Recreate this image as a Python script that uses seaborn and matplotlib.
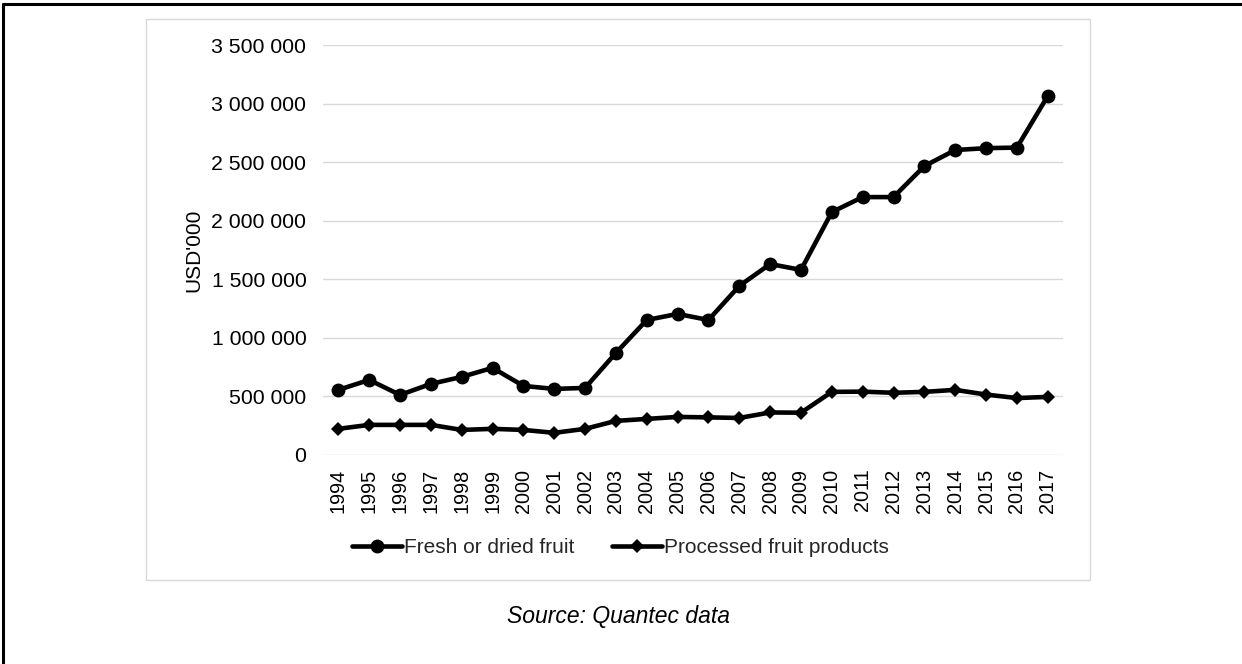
import matplotlib
matplotlib.use("Agg")
import matplotlib.pyplot as plt
import matplotlib.ticker as mticker
from matplotlib.patches import Rectangle
from matplotlib.lines import Line2D
import seaborn as sns
import pandas as pd

# values (USD'000)
years = list(range(1994, 2018))
fresh = [555000, 640000, 512000, 606000, 666000, 743000, 589000, 563000,
         572000, 871000, 1152000, 1204000, 1152000, 1443000, 1630000, 1580000,
         2074000, 2202000, 2202000, 2467000, 2604000, 2620000, 2625000, 3065000]
processed = [222000, 256000, 256000, 256000, 213000, 222000, 213000, 188000,
             222000, 290000, 307000, 324000, 320000, 315000, 362000, 360000,
             538000, 540000, 530000, 538000, 555000, 515000, 485000, 495000]
series_names = ["Fresh or dried fruit", "Processed fruit products"]

df = pd.concat([
    pd.DataFrame({"year": years, "value": fresh, "series": series_names[0]}),
    pd.DataFrame({"year": years, "value": processed, "series": series_names[1]}),
])

sns.set_theme(style="white")
plt.rcParams['font.family'] = ['Liberation Sans', 'DejaVu Sans']

fig = plt.figure(figsize=(12.42, 6.64), dpi=100)
ax = fig.add_axes([0.26, 0.315, 0.596, 0.617])

sns.lineplot(data=df, x="year", y="value", hue="series", style="series",
             palette={series_names[0]: "black", series_names[1]: "black"},
             markers={series_names[0]: "o", series_names[1]: "D"},
             dashes=False, linewidth=3.3, markeredgewidth=0, ax=ax, legend=False)
for line, ms in zip(ax.lines, [10, 7]):
    line.set_markersize(ms)

ax.set_xlim(1993.5, 2017.5)
ax.set_ylim(0, 3500000)
ax.set_xticks(years)
ax.set_xticklabels([str(y) for y in years], rotation=90)
ax.yaxis.set_major_locator(mticker.MultipleLocator(500000))
ax.yaxis.set_major_formatter(mticker.FuncFormatter(lambda v, p: f"{int(v):,}".replace(",", " ")))
ax.grid(axis="y", color="#d9d9d9", linewidth=1)
ax.set_axisbelow(True)
for s in ax.spines.values():
    s.set_visible(False)
ax.tick_params(axis="y", length=0, pad=12, labelsize=15.3, labelcolor="black")
ax.tick_params(axis="x", length=0, pad=10, labelsize=14.3, labelcolor="black")
ax.set_xlabel("")
ax.set_ylabel("USD'000", fontsize=15, color="black")
ax.yaxis.set_label_coords(-0.162, 0.5)

handles = [
    Line2D([], [], color="black", linewidth=3.3, marker="o", markersize=10, markeredgewidth=0),
    Line2D([], [], color="black", linewidth=3.3, marker="D", markersize=7, markeredgewidth=0),
]
fig.legend(handles, series_names, loc="center", bbox_to_anchor=(0.4995, 0.175),
           ncol=2, frameon=False, fontsize=15, handlelength=2.4,
           handletextpad=0.1, columnspacing=1.8)

# chart frame and page border
fig.patches.append(Rectangle((0.1176, 0.1265), 0.760, 0.845, transform=fig.transFigure,
                             fill=False, edgecolor="#d9d9d9", linewidth=1))
fig.lines.append(Line2D([0.0025, 1.0], [0.994, 0.994], transform=fig.transFigure,
                        color="black", linewidth=2.2))
fig.lines.append(Line2D([0.0025, 0.0025], [0.0, 0.994], transform=fig.transFigure,
                        color="black", linewidth=2.2))

fig.text(0.4976, 1 - 616 / 664, "Source: Quantec data", ha="center", va="center",
         fontsize=16.5, style="italic", color="black")

fig.savefig("out.png", dpi=100)
